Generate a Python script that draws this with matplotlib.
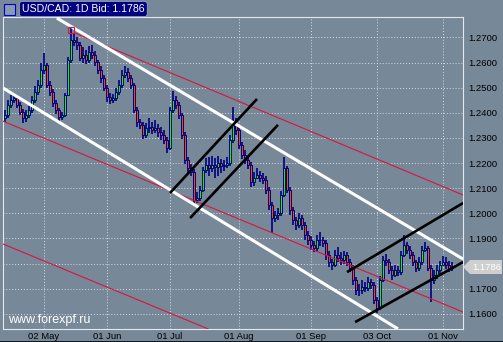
import matplotlib
matplotlib.use("Agg")
import matplotlib.pyplot as plt
from matplotlib.patches import Rectangle, Polygon

plt.rcParams['font.family'] = ['Liberation Sans', 'DejaVu Sans']

# USD/CAD daily bars (prices)
closes = [1.2391, 1.2431, 1.2451, 1.2459, 1.2431, 1.2403, 1.2379, 1.2391, 1.2411, 1.2451,
          1.2483, 1.2511, 1.2570, 1.2590, 1.2511, 1.2483, 1.2439, 1.2411, 1.2383, 1.2391,
          1.2471, 1.2610, 1.2690, 1.2682, 1.2670, 1.2618, 1.2630, 1.2610, 1.2642, 1.2630,
          1.2602, 1.2570, 1.2538, 1.2499, 1.2463, 1.2451, 1.2459, 1.2483, 1.2511, 1.2550,
          1.2562, 1.2538, 1.2511, 1.2411, 1.2363, 1.2351, 1.2312, 1.2339, 1.2343, 1.2331,
          1.2339, 1.2323, 1.2312, 1.2292, 1.2260, 1.2411, 1.2451, 1.2431, 1.2391, 1.2312,
          1.2212, 1.2180, 1.2164, 1.2053, 1.2061, 1.2093, 1.2172, 1.2192, 1.2180, 1.2192,
          1.2184, 1.2200, 1.2188, 1.2192, 1.2200, 1.2292, 1.2351, 1.2331, 1.2272, 1.2232,
          1.2212, 1.2192, 1.2125, 1.2141, 1.2152, 1.2141, 1.2133, 1.2093, 1.2033, 1.1981,
          1.1993, 1.2001, 1.2073, 1.2180, 1.2093, 1.2013, 1.1973, 1.1953, 1.1981, 1.1953,
          1.1914, 1.1894, 1.1874, 1.1862, 1.1894, 1.1894, 1.1882, 1.1834, 1.1806, 1.1794,
          1.1834, 1.1822, 1.1814, 1.1834, 1.1806, 1.1782, 1.1735, 1.1695, 1.1695, 1.1707,
          1.1703, 1.1727, 1.1715, 1.1655, 1.1623, 1.1735, 1.1814, 1.1806, 1.1774, 1.1754,
          1.1774, 1.1766, 1.1834, 1.1874, 1.1854, 1.1834, 1.1806, 1.1782, 1.1806, 1.1854,
          1.1862, 1.1782, 1.1735, 1.1754, 1.1774, 1.1794, 1.1806, 1.1794, 1.1782, 1.1786]
highs = [1.2412, 1.2450, 1.2470, 1.2478, 1.2472, 1.2445, 1.2415, 1.2410, 1.2428, 1.2466,
         1.2505, 1.2530, 1.2598, 1.2638, 1.2600, 1.2525, 1.2495, 1.2450, 1.2420, 1.2405,
         1.2480, 1.2622, 1.2738, 1.2712, 1.2700, 1.2680, 1.2660, 1.2648, 1.2665, 1.2670,
         1.2645, 1.2612, 1.2585, 1.2550, 1.2510, 1.2480, 1.2475, 1.2500, 1.2530, 1.2570,
         1.2585, 1.2580, 1.2552, 1.2520, 1.2425, 1.2375, 1.2365, 1.2360, 1.2380, 1.2362,
         1.2370, 1.2355, 1.2345, 1.2330, 1.2305, 1.2425, 1.2485, 1.2465, 1.2445, 1.2400,
         1.2325, 1.2225, 1.2195, 1.2175, 1.2085, 1.2110, 1.2185, 1.2220, 1.2225, 1.2230,
         1.2220, 1.2230, 1.2215, 1.2212, 1.2225, 1.2310, 1.2423, 1.2380, 1.2345, 1.2285,
         1.2250, 1.2230, 1.2205, 1.2165, 1.2180, 1.2170, 1.2160, 1.2150, 1.2105, 1.2045,
         1.2010, 1.2020, 1.2090, 1.2224, 1.2190, 1.2105, 1.2025, 1.1985, 1.2000, 1.1995,
         1.1965, 1.1930, 1.1910, 1.1890, 1.1915, 1.1925, 1.1905, 1.1895, 1.1850, 1.1820,
         1.1855, 1.1865, 1.1845, 1.1850, 1.1845, 1.1820, 1.1795, 1.1745, 1.1720, 1.1735,
         1.1725, 1.1745, 1.1740, 1.1725, 1.1665, 1.1750, 1.1830, 1.1840, 1.1820, 1.1790,
         1.1795, 1.1790, 1.1850, 1.1914, 1.1885, 1.1870, 1.1845, 1.1815, 1.1825, 1.1870,
         1.1885, 1.1870, 1.1795, 1.1775, 1.1795, 1.1812, 1.1830, 1.1825, 1.1810, 1.1805]
lows = [1.2365, 1.2380, 1.2420, 1.2438, 1.2418, 1.2390, 1.2360, 1.2362, 1.2378, 1.2400,
        1.2440, 1.2470, 1.2500, 1.2555, 1.2498, 1.2465, 1.2425, 1.2395, 1.2368, 1.2372,
        1.2385, 1.2465, 1.2600, 1.2665, 1.2650, 1.2605, 1.2600, 1.2595, 1.2598, 1.2615,
        1.2585, 1.2555, 1.2520, 1.2485, 1.2445, 1.2435, 1.2440, 1.2448, 1.2470, 1.2500,
        1.2540, 1.2522, 1.2495, 1.2400, 1.2345, 1.2335, 1.2295, 1.2300, 1.2320, 1.2315,
        1.2320, 1.2305, 1.2290, 1.2275, 1.2240, 1.2252, 1.2400, 1.2415, 1.2375, 1.2295,
        1.2195, 1.2160, 1.2150, 1.2033, 1.2040, 1.2050, 1.2085, 1.2160, 1.2150, 1.2165,
        1.2140, 1.2150, 1.2160, 1.2170, 1.2180, 1.2190, 1.2280, 1.2310, 1.2255, 1.2215,
        1.2195, 1.2175, 1.2105, 1.2110, 1.2135, 1.2125, 1.2115, 1.2075, 1.2015, 1.1921,
        1.1965, 1.1975, 1.1990, 1.2065, 1.2080, 1.1995, 1.1955, 1.1935, 1.1940, 1.1935,
        1.1895, 1.1875, 1.1855, 1.1845, 1.1850, 1.1870, 1.1865, 1.1815, 1.1785, 1.1775,
        1.1785, 1.1805, 1.1795, 1.1800, 1.1790, 1.1765, 1.1715, 1.1675, 1.1670, 1.1680,
        1.1685, 1.1690, 1.1700, 1.1640, 1.1605, 1.1615, 1.1725, 1.1790, 1.1760, 1.1735,
        1.1745, 1.1750, 1.1755, 1.1825, 1.1840, 1.1820, 1.1790, 1.1765, 1.1770, 1.1795,
        1.1845, 1.1770, 1.1647, 1.1720, 1.1740, 1.1760, 1.1790, 1.1780, 1.1765, 1.1770]
first_open = 1.2380
opens = [first_open] + closes[:-1]
last_price = 1.1786

date_ticks = [13, 34, 55, 78, 102, 124, 146]
date_labels = ['02 May', '01 Jun', '01 Jul', '01 Aug', '01 Sep', '03 Oct', '01 Nov']
price_ticks = [1.16, 1.17, 1.18, 1.19, 1.20, 1.21, 1.22, 1.23, 1.24, 1.25, 1.26, 1.27]
# 1.1800 sits under the price tag in the original, so its label is not shown
price_labels = ['' if abs(v - 1.18) < 1e-9 else '%.4f' % v for v in price_ticks]

# trend lines drawn on the chart: (bar index, price) end points
white_lines = [((17.3, 1.2777), (152.7, 1.1818)),
               ((-0.7, 1.2499), (131.0, 1.1540))]
red_lines = [((23.3, 1.2718), (152.7, 1.2073)),
             ((-0.7, 1.2367), (152.7, 1.1607)),
             ((-0.7, 1.1878), (67.7, 1.1540))]
black_lines = [((55.0, 1.2081), (84.0, 1.2455)),
               ((61.7, 1.1981), (91.0, 1.2352)),
               ((114.0, 1.1766), (152.7, 1.2041)),
               ((116.7, 1.1567), (152.7, 1.1806))]

bg = '#778899'
navy = '#000080'
W, H = 503, 342

fig = plt.figure(figsize=(W / 100, H / 100), dpi=100, facecolor=bg)
ax = fig.add_axes([3 / W, 1 - 329 / H, 460 / W, 312 / H])
ax.set_facecolor(bg)
ax.set_xlim(-0.67, 152.67)
ax.set_ylim(1.15396, 1.27813)

for v in price_ticks:
    ax.axhline(v, color='#d5dbe2', lw=0.7, ls=(0, (1, 2)), zorder=1)
for t in date_ticks:
    ax.axvline(t, color='#d5dbe2', lw=0.7, ls=(0, (1, 2)), zorder=1)

xs = list(range(len(closes)))
ax.vlines(xs, lows, highs, color=navy, lw=1.2, zorder=3)
body_bottom = [min(o, c) for o, c in zip(opens, closes)]
body_height = [max(abs(c - o), 0.00012) for o, c in zip(opens, closes)]
body_color = ['#00ff00' if c >= o else '#ff4500' for o, c in zip(opens, closes)]
ax.bar(xs, body_height, bottom=body_bottom, width=0.88, color=body_color,
       edgecolor=navy, linewidth=0.7, zorder=4)

for (x0, y0), (x1, y1) in red_lines:
    ax.plot([x0, x1], [y0, y1], color='#dc143c', lw=0.8, zorder=5)
for (x0, y0), (x1, y1) in white_lines:
    ax.plot([x0, x1], [y0, y1], color='white', lw=2.2, zorder=6, solid_capstyle='butt')
for (x0, y0), (x1, y1) in black_lines:
    ax.plot([x0, x1], [y0, y1], color='black', lw=1.9, zorder=6, solid_capstyle='butt')

# high marker
ax.plot([22], [1.2728], marker='s', ms=5, mfc='none', mec='#dc143c', mew=0.8, zorder=7)

ax.yaxis.tick_right()
ax.set_yticks(price_ticks)
ax.set_yticklabels(price_labels)
ax.set_xticks(date_ticks)
ax.set_xticklabels(date_labels)
ax.tick_params(length=0, labelsize=6.8, colors='black', pad=4)
ax.tick_params(axis='x', pad=2)
for s in ax.spines.values():
    s.set_color('#e4e8ee')
    s.set_linewidth(0.8)

# current price tag
tag_px = [(463, 267), (470, 260), (502, 260), (502, 274), (470, 274)]
tag = Polygon([(x / 100, (H - y) / 100) for x, y in tag_px], closed=True,
              transform=fig.dpi_scale_trans, fc='#cfcfcf', ec='none', zorder=10)
fig.patches.append(tag)
fig.text(472 / W, 1 - 267 / H, '%.4f' % last_price, color='white', fontsize=6.8,
         va='center', ha='left', zorder=11)

# title box and icon
fig.text(22 / W, 1 - 9 / H, 'USD/CAD: 1D Bid: %.4f' % last_price, color='white',
         fontsize=7.6, va='center', ha='left',
         bbox=dict(boxstyle='round,pad=0.25,rounding_size=0.3', fc=navy, ec='#9aa4c0', lw=0.6))
fig.patches.append(Rectangle((4 / W, 1 - 15 / H), 11 / W, 11 / H, transform=fig.transFigure,
                             fc='#8a9ab0', ec='#0000cc', lw=0.8))

fig.text(8 / W, 1 - 320 / H, 'www.forexpf.ru', color='white', fontsize=9, va='center', ha='left')

fig.add_artist(plt.Line2D([0, 1], [0.5 / H, 0.5 / H], transform=fig.transFigure, color='black', lw=1.2))

fig.savefig('out.png', dpi=100, facecolor=bg)
